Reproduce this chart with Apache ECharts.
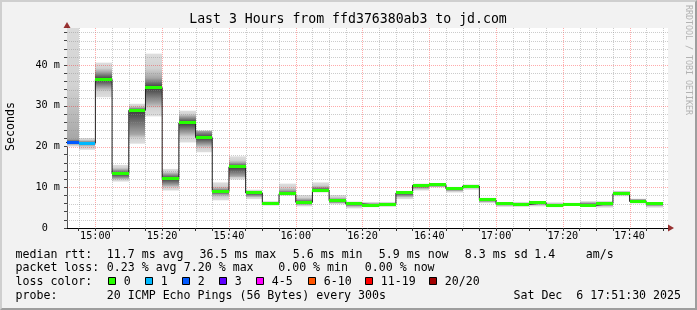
<!DOCTYPE html>
<html><head><meta charset="utf-8">
<script src="https://cdn.jsdelivr.net/npm/echarts@6/dist/echarts.min.js"></script>
<style>
html,body{margin:0;padding:0;background:#f2f2f2;}
#wrap{position:relative;width:697px;height:310px;overflow:hidden;}
#chart{position:absolute;left:0;top:0;width:697px;height:310px;}
#frame{position:absolute;left:0;top:0;width:697px;height:310px;box-sizing:border-box;border:2px solid;border-color:#cfcfcf #9e9e9e #9e9e9e #cfcfcf;pointer-events:none;}
</style></head><body>
<div id="wrap"><div id="chart"></div><div id="frame"></div></div>
<script>
// ---------------- data ----------------
const axisStart = '14:51:30';
const axisEnd = '17:51:30';
const stepMinutes = 5;
// end time of each 5-minute step (RRD style)
const stepEnds = ['14:55','15:00','15:05','15:10','15:15','15:20','15:25','15:30','15:35','15:40','15:45','15:50',
  '15:55','16:00','16:05','16:10','16:15','16:20','16:25','16:30','16:35','16:40','16:45','16:50',
  '16:55','17:00','17:05','17:10','17:15','17:20','17:25','17:30','17:35','17:40','17:45','17:50'];
// median rtt (ms)
const median = [21.0,20.8,36.5,13.3,28.9,34.5,12.1,25.8,22.2,8.9,15.0,8.6,
  6.0,8.4,6.3,9.3,6.7,5.9,5.6,5.8,8.6,10.5,10.6,9.6,
  10.3,6.9,5.9,5.8,6.2,5.6,5.8,5.6,6.0,8.4,6.5,5.9];
// smoke extent (ms): lowest / highest ping
const smokeLo = [20.0,19.2,32.1,11.4,20.7,27.4,9.2,21.0,18.6,6.8,11.9,7.1,
  5.5,7.9,5.3,8.7,5.8,4.8,5.1,5.2,7.1,9.2,10.0,8.7,
  9.4,6.1,5.2,5.2,5.3,5.1,5.5,5.3,5.0,7.8,6.0,5.0];
const smokeHi = [55.0,22.1,40.6,15.5,30.5,42.8,14.5,28.8,24.0,11.2,17.6,9.4,
  6.6,10.9,8.1,11.2,8.1,6.5,6.4,6.4,9.0,10.9,11.0,10.1,
  10.7,7.4,6.3,6.4,6.6,6.3,6.2,6.6,6.6,9.1,7.2,6.3];
// dense core of the smoke (ms)
const coreLo = [20.6,20.4,34.5,12.2,23.0,30.7,10.5,23.3,20.4,8.2,12.7,7.8,
  5.7,8.1,5.8,9.0,6.2,5.4,5.3,5.5,7.8,9.8,10.2,9.2,
  9.9,6.5,5.6,5.5,5.8,5.4,5.7,5.5,5.5,8.2,6.3,5.5];
const coreHi = [21.8,21.3,38.3,14.3,29.5,36.8,13.3,27.4,23.8,9.6,16.0,9.0,
  6.2,9.2,7.0,10.0,7.2,6.2,6.0,6.1,8.8,10.7,10.8,9.9,
  10.5,7.1,6.1,6.1,6.4,5.9,6.0,6.2,6.3,8.9,7.0,6.0];
// lost pings out of 20
const lost = [2,1,0,0,0,0,0,0,0,0,0,0, 0,0,0,0,0,0,0,0,0,0,0,0, 0,0,0,0,0,0,0,0,0,0,0,0];

const lossUpper = [0,1,2,3,5,10,19,20];
const lossColors = ['#26ff00','#00b8ff','#0059ff','#5e00ff','#ff00ff','#ff5500','#ff0000','#a10000'];
const lossLabels = ['0','1','2','3','4-5','6-10','11-19','20/20'];

const xTickLabels = ['15:00','15:20','15:40','16:00','16:20','16:40','17:00','17:20','17:40'];
const yTickLabels = [0,10,20,30,40];
const yMax = 49.1;

const statsLine1 = ['median rtt:','11.7 ms avg','36.5 ms max','5.6 ms min','5.9 ms now','8.3 ms sd','1.4','am/s'];
const statsLine2 = ['packet loss:','0.23 % avg','7.20 % max','0.00 % min','0.00 % now'];
const probeText = ['probe:','20 ICMP Echo Pings (56 Bytes) every 300s','Sat Dec  6 17:51:30 2025'];
const titleText = 'Last 3 Hours from ffd376380ab3 to jd.com';

// ---------------- helpers ----------------
function toMin(s){ const p=s.split(':').map(Number); return p[0]*60+p[1]+(p[2]||0)/60; }
function fmt(m){ const h=Math.floor(m/60), mm=Math.round(m%60); return h+':'+(mm<10?'0':'')+mm; }
function lossColor(n){ for(let i=0;i<lossUpper.length;i++){ if(n<=lossUpper[i]) return lossColors[i]; } return lossColors[lossColors.length-1]; }

const xMin = toMin(axisStart), xMax = toMin(axisEnd);
const ends = stepEnds.map(toMin);
const smokeData = ends.map((e,i)=>[e-stepMinutes, e, smokeLo[i], smokeHi[i], coreLo[i], coreHi[i], median[i], lost[i]]);
const lineData = [];
ends.forEach((e,i)=>{ lineData.push([e-stepMinutes, median[i]]); lineData.push([e, median[i]]); });

const minorX = [];
for (let m = Math.ceil(xMin/stepMinutes)*stepMinutes; m < xMax; m += stepMinutes) minorX.push(m);
const xMajorVals = xTickLabels.map(toMin);
const minorY = [];
for (let v = 2; v < yMax; v += 2) minorY.push(v);

const MONO = 'DejaVu Sans Mono';

function clampRect(cs, x0, x1, y0, y1){
  const l = Math.round(Math.max(Math.min(x0,x1), cs.x));
  const r = Math.round(Math.min(Math.max(x0,x1), cs.x+cs.width));
  const t = Math.max(Math.min(y0,y1), cs.y);
  const b = Math.min(Math.max(y0,y1), cs.y+cs.height);
  if (r<=l || b<=t) return null;
  return {x:l, y:t, width:r-l, height:b-t};
}
function clamp01(t){ return Math.min(0.98, Math.max(0.02, t)); }

function smokeRender(params, api){
  const cs = params.coordSys;
  const x0 = api.coord([api.value(0), 0])[0], x1 = api.coord([api.value(1), 0])[0];
  const yLo = api.coord([0, api.value(2)])[1], yHi = api.coord([0, api.value(3)])[1];
  const yCLo = api.coord([0, api.value(4)])[1], yCHi = api.coord([0, api.value(5)])[1];
  const yMed = api.coord([0, api.value(6)])[1];
  const children = [];
  const up = clampRect(cs, x0, x1, yHi, yMed);
  if (up) {
    const t = clamp01((yCHi - yHi)/Math.max(1e-6, yMed - yHi));
    children.push({type:'rect', shape:up, style:{fill: new echarts.graphic.LinearGradient(0, yHi, 0, yMed,
      [{offset:0,color:'#dedede'},{offset:t*0.6,color:'#d2d2d2'},{offset:t,color:'#a6a6a6'},{offset:1,color:'#3c3c3c'}], true)}});
  }
  const dn = clampRect(cs, x0, x1, yMed, yLo);
  if (dn) {
    const t = clamp01((yCLo - yMed)/Math.max(1e-6, yLo - yMed));
    children.push({type:'rect', shape:dn, style:{fill: new echarts.graphic.LinearGradient(0, yMed, 0, yLo,
      [{offset:0,color:'#3c3c3c'},{offset:t,color:'#a6a6a6'},{offset:t+(1-t)*0.4,color:'#d2d2d2'},{offset:1,color:'#dedede'}], true)}});
  }
  return {type:'group', children};
}

function bandRender(params, api){
  const cs = params.coordSys;
  const x0 = api.coord([api.value(0), 0])[0], x1 = api.coord([api.value(1), 0])[0];
  const yMed = api.coord([0, api.value(6)])[1];
  const y = Math.round(yMed - 1.5);
  const r = clampRect(cs, x0, x1, y, y+3);
  if (!r) return null;
  return {type:'rect', shape:r, style:{fill: lossColor(api.value(7))}};
}

function vGridRender(params, api){
  const cs = params.coordSys;
  const v = api.value(0);
  const x = Math.round(api.coord([v, 0])[0]) + 0.5;
  const major = xMajorVals.some(m => Math.abs(m - v) < 1e-6);
  return {type:'line', shape:{x1:x, y1:cs.y, x2:x, y2:cs.y+cs.height},
    style:{stroke: major ? 'rgba(255,0,0,0.33)' : 'rgba(143,143,143,0.45)', lineWidth:1, lineDash:[1,1]}};
}
function hGridRender(params, api){
  const cs = params.coordSys;
  const v = api.value(1);
  const y = Math.round(api.coord([xMin, v])[1]) + 0.5;
  const major = yTickLabels.some(m => Math.abs(m - v) < 1e-6);
  return {type:'line', shape:{x1:cs.x, y1:y, x2:cs.x+cs.width, y2:y},
    style:{stroke: major ? 'rgba(255,0,0,0.33)' : 'rgba(143,143,143,0.45)', lineWidth:1, lineDash:[1,1]}};
}

// ---------------- text / legend graphics ----------------
const graphics = [];
function txt(x, y, s, o){
  o = o || {};
  graphics.push({type:'text', x, y, rotation:o.rot||0, silent:true, z:100,
    style:{text:s, fill:o.fill||'#000', font:(o.size||11.6)+'px "'+MONO+'"', align:o.align||'left', verticalAlign:'middle'}});
}
txt(348, 19.5, titleText, {size:13.2, align:'center'});
txt(10.5, 126.5, 'Seconds', {rot:Math.PI/2, align:'center'});
txt(688, 60, 'RRDTOOL / TOBI OETIKER', {rot:-Math.PI/2, align:'center', size:8.3, fill:'#b2b2b2'});
const l1x = [15.5,106.8,199.5,292.8,378.8,464.8,534.2,585.8];
statsLine1.forEach((s,i)=>txt(l1x[i], 254.5, s));
const l2x = [15.5,106.8,183.8,278.2,364.8];
statsLine2.forEach((s,i)=>txt(l2x[i], 268.2, s));
txt(15.5, 281.6, 'loss color:');
const boxX = [108.5,145.5,182.5,219.5,256.5,308.5,365.5,429.5];
lossLabels.forEach((s,i)=>{
  graphics.push({type:'rect', silent:true, z:100, shape:{x:boxX[i], y:277.5, width:7, height:7},
    style:{fill:lossColors[i], stroke:'#000', lineWidth:1}});
  txt(boxX[i]+15.3, 281.6, s);
});
txt(15.5, 295.8, probeText[0]);
txt(106.8, 295.8, probeText[1]);
txt(681, 295.8, probeText[2], {align:'right'});

// ---------------- chart ----------------
const chart = echarts.init(document.getElementById('chart'), null, {renderer:'canvas'});
chart.setOption({
  animation:false,
  backgroundColor:'#f2f2f2',
  grid:{left:67, top:28, width:601, height:200, backgroundColor:'#ffffff', show:true, borderWidth:0},
  xAxis:{type:'value', min:xMin, max:xMax,
    axisLine:{lineStyle:{color:'#000', width:1}},
    axisTick:{show:true, length:3, lineStyle:{color:'#333'}, customValues: minorX},
    axisLabel:{customValues: xMajorVals, formatter:v=>fmt(v), fontFamily:MONO, fontSize:10.2, color:'#000', margin:3},
    splitLine:{show:false}},
  yAxis:{type:'value', min:0, max:yMax,
    axisLine:{show:true, lineStyle:{color:'#555', width:1}},
    axisTick:{show:true, length:3, lineStyle:{color:'#444'}, customValues:[0].concat(minorY)},
    axisLabel:{customValues: yTickLabels, fontFamily:MONO, fontSize:10.2, color:'#000', margin:7,
      formatter:v=> v===0 ? '{z|0}' : v+' m',
      rich:{z:{fontFamily:MONO, fontSize:10.2, color:'#000', padding:[0,12,0,0]}}},
    splitLine:{show:false}},
  series:[
    {type:'custom', name:'smoke', renderItem:smokeRender, data:smokeData, z:1, silent:true, clip:true},
    {type:'custom', name:'vgrid', renderItem:vGridRender, data:minorX.map(m=>[m,0]), z:2, silent:true},
    {type:'custom', name:'hgrid', renderItem:hGridRender, data:minorY.map(v=>[xMin,v]), z:2, silent:true},
    {type:'line', name:'median', data:lineData, symbol:'none', z:3, silent:true,
      lineStyle:{color:'#202020', width:1}},
    {type:'custom', name:'loss', renderItem:bandRender, data:smokeData, z:4, silent:true, clip:true},
    {type:'scatter', name:'arrows', silent:true, clip:false, z:6,
      data:[
        {value:[xMax,0], symbol:'triangle', symbolRotate:-90, symbolSize:[7,6], symbolOffset:[3,0]},
        {value:[xMin,yMax], symbol:'triangle', symbolRotate:0, symbolSize:[7,6], symbolOffset:[0,-3]}
      ], itemStyle:{color:'#7f0000'}}
  ],
  graphic: graphics
});
</script>
</body></html>
